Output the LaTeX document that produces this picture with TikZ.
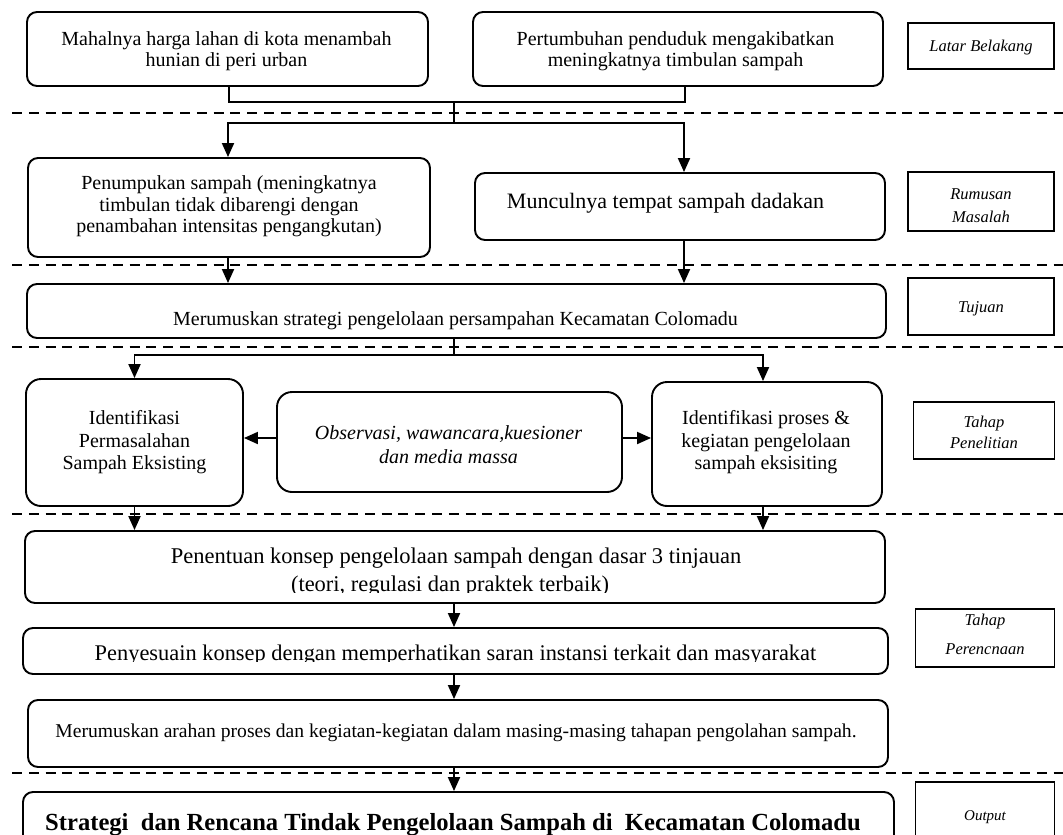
\documentclass[tikz,border=0pt]{standalone}
\usepackage{fontspec}
\setmainfont{Liberation Serif}
\usetikzlibrary{arrows.meta}
\begin{document}
\begin{tikzpicture}[x=1pt,y=-1pt,
  box/.style={draw, line width=1.9pt, rounded corners=10pt, inner sep=0pt},
  bigbox/.style={box, rounded corners=15pt},
  lbl/.style={draw, line width=1.9pt, inner sep=0pt},
  txt/.style={inner sep=0pt, align=center, font=\fontsize{20}{21}\selectfont},
  ltxt/.style={inner sep=0pt, align=center, font=\fontsize{16.5}{20}\selectfont\itshape},
  arr/.style={line width=1.9pt, -{Triangle[length=14pt,width=12pt]}},
  ln/.style={line width=1.9pt},
  sep/.style={line width=2.2pt, dash pattern=on 10pt off 6.8pt}]
\useasboundingbox (0,0) rectangle (1063,835);
\clip (0,0) rectangle (1063,835);
% separators
\foreach \yy in {113,265,347,514,773} \draw[sep] (12,\yy) -- (1063,\yy);
% Latar Belakang
\node[box, minimum width=401pt, minimum height=74pt] (b1) at (227.5,49) {};
\node[txt] (t1) at (226.5,51.4) {Mahalnya harga lahan di kota menambah\\hunian di peri urban};
\node[box, minimum width=410pt, minimum height=74pt] (b2) at (678,49) {};
\node[txt] (t2) at (675.5,51.4) {Pertumbuhan penduduk mengakibatkan\\meningkatnya timbulan sampah};
\node[lbl, minimum width=146pt, minimum height=46pt] (l1) at (981,46) {};
\node[ltxt, anchor=base] (m1) at (981,51) {Latar Belakang};
% Rumusan masalah
\node[box, minimum width=402pt, minimum height=99pt] (b3) at (229,207.5) {};
\node[txt, font=\fontsize{20}{21.5}\selectfont] (t3) at (229,206.4) {Penumpukan sampah (meningkatnya\\timbulan tidak dibarengi dengan\\penambahan intensitas pengangkutan)};
\node[box, minimum width=410pt, minimum height=67pt] (b4) at (680,206.5) {};
\node[txt, font=\fontsize{22}{24}\selectfont, anchor=base] (t4) at (665.5,208) {Munculnya tempat sampah dadakan};
\node[lbl, minimum width=146pt, minimum height=59pt] (l2) at (981,201.5) {};
\begin{scope}
\clip (l2.north west) rectangle (1063,223.8);
\node[ltxt, anchor=base] (m2a) at (981,199.5) {Rumusan};
\node[ltxt, anchor=base] (m2b) at (981,222.5) {Masalah};
\end{scope}
% Tujuan
\node[box, minimum width=859pt, minimum height=54pt] (b5) at (456.5,311) {};
\node[txt, anchor=base] (t5) at (455.5,325) {Merumuskan strategi pengelolaan persampahan Kecamatan Colomadu};
\node[lbl, minimum width=146pt, minimum height=57pt] (l3) at (981,306.5) {};
\node[ltxt, anchor=base] (m3) at (981,312) {Tujuan};
% Tahap penelitian
\node[bigbox, minimum width=217pt, minimum height=127pt] (b6) at (134.5,442.5) {};
\node[txt, font=\fontsize{20}{22.5}\selectfont] (t6) at (134.5,442.4) {Identifikasi\\Permasalahan\\Sampah Eksisting};
\node[bigbox, minimum width=345pt, minimum height=100pt] (b7) at (449.5,442) {};
\node[txt, font=\fontsize{20}{24}\selectfont\itshape] (t7) at (448.5,444.9) {Observasi, wawancara,kuesioner\\dan media massa};
\node[bigbox, minimum width=230pt, minimum height=124pt] (b8) at (767,444) {};
\node[txt, font=\fontsize{20}{22.5}\selectfont] (t8) at (766,442.4) {Identifikasi proses \&\\kegiatan pengelolaan\\sampah eksisiting};
\node[lbl, minimum width=141pt, minimum height=57pt] (l4) at (984,430.5) {};
\node[ltxt, anchor=base] (m4a) at (984,427.5) {Tahap};
\node[ltxt, anchor=base] (m4b) at (984,448) {Penelitian};
% Tahap perencanaan
\node[box, minimum width=860pt, minimum height=72pt] (b9) at (455,567) {};
\begin{scope}
\clip (b9.north west) rectangle (b9.east |- 0,592);
\node[txt, font=\fontsize{22.5}{28}\selectfont, anchor=base] (t9a) at (456,563) {Penentuan konsep pengelolaan sampah dengan dasar 3 tinjauan};
\node[txt, font=\fontsize{22.5}{28}\selectfont, anchor=base] (t9b) at (450,591) {(teori, regulasi dan praktek terbaik)};
\end{scope}
\node[box, minimum width=865pt, minimum height=46pt] (b10) at (455.5,651) {};
\begin{scope}
\clip (b10.north west) rectangle (b10.east |- 0,661.5);
\node[txt, font=\fontsize{22.4}{24}\selectfont, anchor=base] (t10) at (455.5,660) {Penyesuain konsep dengan memperhatikan saran instansi terkait dan masyarakat};
\end{scope}
\node[lbl, minimum width=139pt, minimum height=58pt] (l5) at (985,638) {};
\node[ltxt, anchor=base] (m5a) at (985,625) {Tahap};
\node[ltxt, anchor=base] (m5b) at (985,654) {Perencnaan};
\node[box, minimum width=860pt, minimum height=67pt] (b11) at (458,733.5) {};
\node[txt, font=\fontsize{19.6}{21}\selectfont, anchor=base] (t11) at (456,737) {Merumuskan arahan proses dan kegiatan-kegiatan dalam masing-masing tahapan pengolahan sampah.};
% Output
\node[box, minimum width=871pt, minimum height=60pt] (b12) at (458.5,822) {};
\node[txt, font=\fontsize{24.6}{26}\selectfont\bfseries, anchor=base] (t12) at (453,830) {Strategi\ \ dan Rencana Tindak Pengelolaan Sampah di\ \ Kecamatan Colomadu};
\node[lbl, minimum width=139pt, minimum height=70pt] (l6) at (985,817) {};
\node[ltxt, font=\fontsize{15}{18}\selectfont\itshape, anchor=base] (m6) at (985,820) {Output};
% connectors
\coordinate (j1) at (454,102);
\coordinate (j2) at (454,123);
\coordinate (j3) at (454,355);
\draw[ln] ([xshift=1.5pt]b1.south) |- (j1) -| ([xshift=7pt]b2.south);
\draw[ln] (j1) -- (j2);
\draw[arr] (j2) -| ([xshift=-1pt]b3.north);
\draw[arr] (j2) -| ([xshift=4pt]b4.north);
\draw[arr] ([xshift=-1pt]b3.south) -- ([xshift=-1pt]b3.south |- b5.north);
\draw[arr] ([xshift=4pt]b4.south) -- ([xshift=4pt]b4.south |- b5.north);
\draw[ln] (j3 |- b5.south) -- (j3);
\draw[arr] (j3) -| (b6.north);
\draw[arr] (j3) -| ([xshift=-4pt]b8.north);
\draw[arr] ([yshift=4pt]b7.west) -- ([yshift=4pt]b7.west -| b6.east);
\draw[arr] ([yshift=4pt]b7.east) -- ([yshift=4pt]b7.east -| b8.west);
\draw[arr] (b6.south) -- (b6.south |- b9.north);
\draw[arr] ([xshift=-4pt]b8.south) -- ([xshift=-4pt]b8.south |- b9.north);
\draw[arr] (j3 |- b9.south) -- (j3 |- b10.north);
\draw[arr] (j3 |- b10.south) -- (j3 |- b11.north);
\draw[arr] (j3 |- b11.south) -- (j3 |- b12.north);
\end{tikzpicture}
\end{document}
